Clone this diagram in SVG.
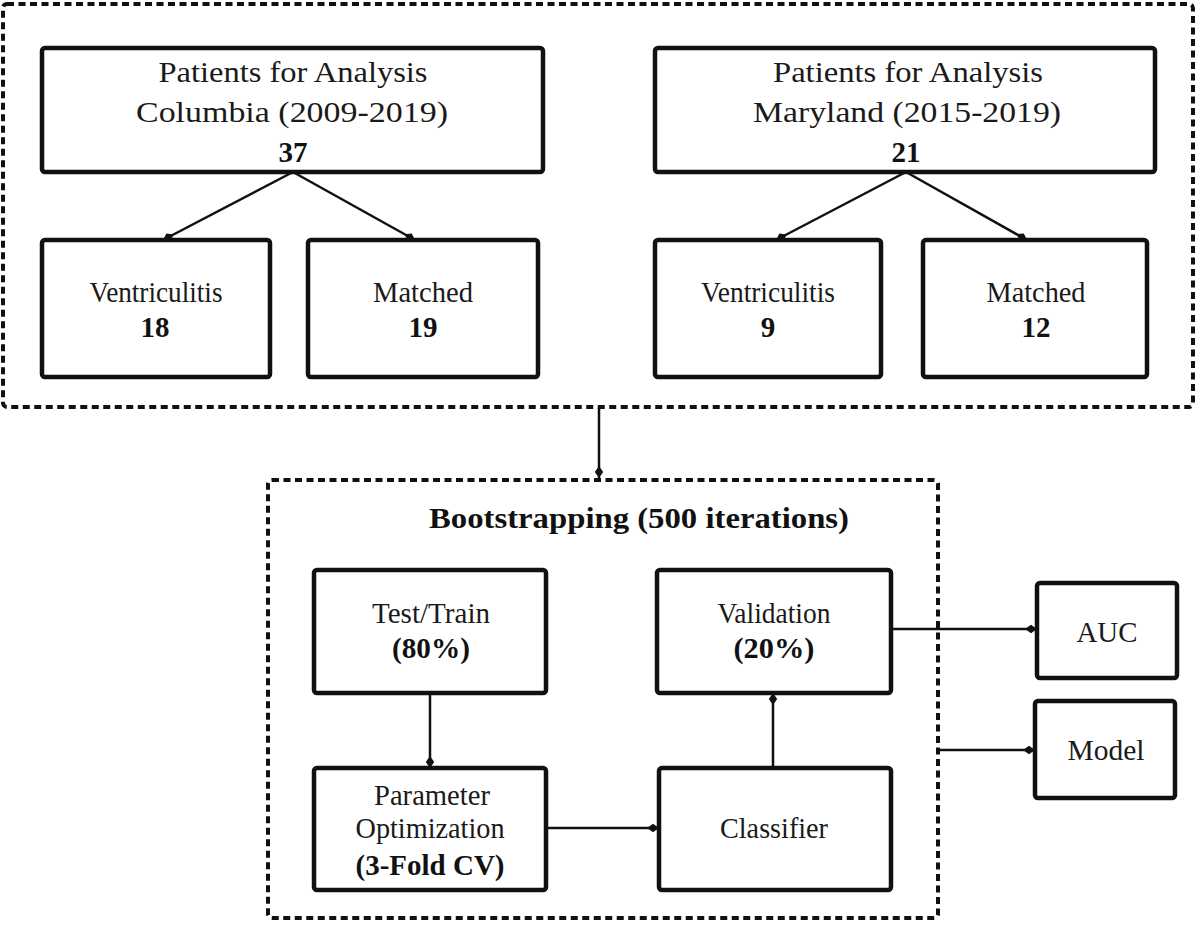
<svg xmlns="http://www.w3.org/2000/svg" width="1200" height="925" viewBox="0 0 1200 925">
<style>
.bg{fill:#fff}
.box{fill:#fff;stroke:#111;stroke-width:4.5}
.dash{fill:none;stroke:#111;stroke-width:4;stroke-dasharray:7 4.5}
.conn{fill:none;stroke:#111;stroke-width:2.5}
.t{font-family:"Liberation Serif","Times New Roman",serif;font-size:29px;fill:#1a1a1a;text-anchor:middle}
.b{font-weight:bold;fill:#111}
</style>
<defs>
<marker id="ah" viewBox="0 0 10 10" refX="10" refY="5" markerWidth="12" markerHeight="12" markerUnits="userSpaceOnUse" orient="auto">
<path d="M0,5 L5,1.5 L10,5 L5,8.5 z" fill="#111"/>
</marker>
</defs>
<rect class="bg" x="0" y="0" width="1200" height="925"/>
<g id="group-patients">
<rect class="dash" x="3" y="4" width="1190" height="403" rx="4"/>
</g>
<g id="columbia">
<rect class="box" x="42" y="48" width="501" height="124" rx="3"/>
<text class="t" x="293" y="82" textLength="269" lengthAdjust="spacingAndGlyphs">Patients for Analysis</text>
<text class="t" x="292" y="122" textLength="312" lengthAdjust="spacingAndGlyphs">Columbia (2009-2019)</text>
<text class="t b" x="293" y="162">37</text>
</g>
<g id="col-vent">
<rect class="box" x="42" y="240" width="228" height="137" rx="3"/>
<text class="t" x="156" y="302" textLength="133" lengthAdjust="spacingAndGlyphs">Ventriculitis</text>
<text class="t b" x="155" y="337">18</text>
</g>
<g id="col-matched">
<rect class="box" x="308" y="240" width="230" height="137" rx="3"/>
<text class="t" x="423" y="302" textLength="100" lengthAdjust="spacingAndGlyphs">Matched</text>
<text class="t b" x="423" y="337">19</text>
</g>
<g id="maryland">
<rect class="box" x="655" y="48" width="500" height="124" rx="3"/>
<text class="t" x="908" y="82" textLength="270" lengthAdjust="spacingAndGlyphs">Patients for Analysis</text>
<text class="t" x="907" y="122" textLength="308" lengthAdjust="spacingAndGlyphs">Maryland (2015-2019)</text>
<text class="t b" x="906" y="162">21</text>
</g>
<g id="mar-vent">
<rect class="box" x="655" y="240" width="226" height="137" rx="3"/>
<text class="t" x="768" y="302" textLength="134" lengthAdjust="spacingAndGlyphs">Ventriculitis</text>
<text class="t b" x="768" y="337">9</text>
</g>
<g id="mar-matched">
<rect class="box" x="923" y="240" width="224" height="137" rx="3"/>
<text class="t" x="1036" y="302" textLength="99" lengthAdjust="spacingAndGlyphs">Matched</text>
<text class="t b" x="1036" y="337">12</text>
</g>
<g id="bootstrapping">
<rect class="dash" x="268" y="480" width="670" height="438" rx="4"/>
<text class="t b" x="639" y="528" textLength="420" lengthAdjust="spacingAndGlyphs">Bootstrapping (500 iterations)</text>
</g>
<g id="test-train">
<rect class="box" x="314" y="570" width="232" height="123" rx="3"/>
<text class="t" x="431" y="623" textLength="118" lengthAdjust="spacingAndGlyphs">Test/Train</text>
<text class="t b" x="431" y="658" textLength="78" lengthAdjust="spacingAndGlyphs">(80%)</text>
</g>
<g id="validation">
<rect class="box" x="657" y="570" width="234" height="123" rx="3"/>
<text class="t" x="774" y="623" textLength="113" lengthAdjust="spacingAndGlyphs">Validation</text>
<text class="t b" x="774" y="658" textLength="81" lengthAdjust="spacingAndGlyphs">(20%)</text>
</g>
<g id="param-opt">
<rect class="box" x="314" y="768" width="232" height="122" rx="3"/>
<text class="t" x="432" y="805" textLength="116" lengthAdjust="spacingAndGlyphs">Parameter</text>
<text class="t" x="430" y="838" textLength="149" lengthAdjust="spacingAndGlyphs">Optimization</text>
<text class="t b" x="430" y="875" textLength="149" lengthAdjust="spacingAndGlyphs">(3-Fold CV)</text>
</g>
<g id="classifier">
<rect class="box" x="659" y="768" width="232" height="122" rx="3"/>
<text class="t" x="774" y="838" textLength="108" lengthAdjust="spacingAndGlyphs">Classifier</text>
</g>
<g id="auc">
<rect class="box" x="1037" y="583" width="140" height="95" rx="3"/>
<text class="t" x="1107" y="642" textLength="61" lengthAdjust="spacingAndGlyphs">AUC</text>
</g>
<g id="model">
<rect class="box" x="1035" y="701" width="140" height="97" rx="3"/>
<text class="t" x="1106" y="760" textLength="77" lengthAdjust="spacingAndGlyphs">Model</text>
</g>
<g id="connectors">
<path class="conn" d="M293,172 L163,240" marker-end="url(#ah)"/>
<path class="conn" d="M293,172 L415,240" marker-end="url(#ah)"/>
<path class="conn" d="M906,172 L776,240" marker-end="url(#ah)"/>
<path class="conn" d="M906,172 L1027,240" marker-end="url(#ah)"/>
<path class="conn" d="M599,408 L599,478" marker-end="url(#ah)"/>
<path class="conn" d="M430,693 L430,768" marker-end="url(#ah)"/>
<path class="conn" d="M773,768 L773,693" marker-end="url(#ah)"/>
<path class="conn" d="M546,828 L659,828" marker-end="url(#ah)"/>
<path class="conn" d="M891,629 L1037,629" marker-end="url(#ah)"/>
<path class="conn" d="M938,750 L1035,750" marker-end="url(#ah)"/>
</g>
</svg>
